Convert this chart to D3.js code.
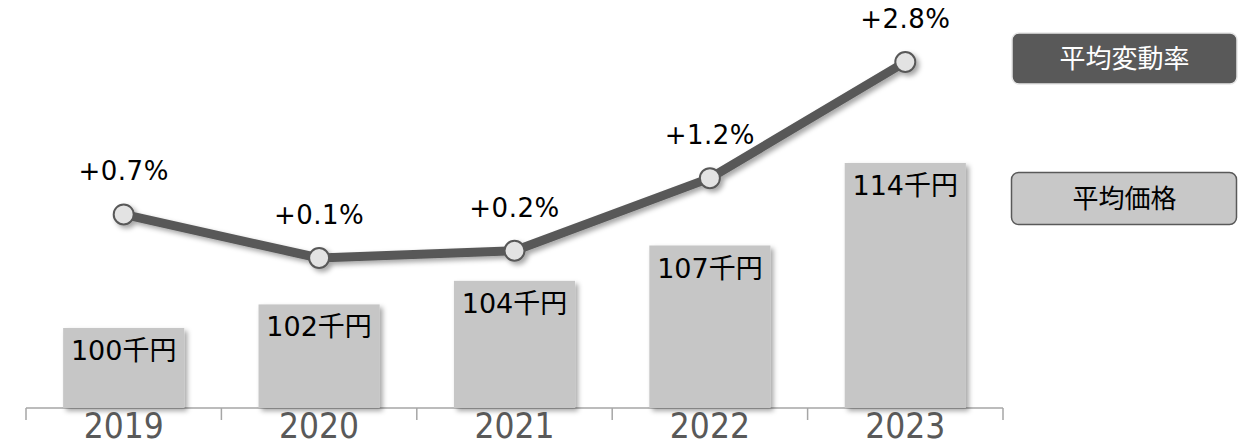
<!DOCTYPE html>
<meta charset='utf-8'>
<style>
  body { margin: 0; background: #fff; }
  svg { display: block; font-family: 'DejaVu Sans', 'Noto Sans CJK JP', sans-serif; }
  .barText { fill: #000; font-size: 27px; }
  .rateText { fill: #000; font-size: 26px; letter-spacing: 0.5px; }
  .yearText { fill: #595959; font-size: 35px; font-family: 'DejaVu Sans Condensed', 'DejaVu Sans', sans-serif; }
  .legendText { font-size: 26px; font-family: 'Noto Sans CJK JP', sans-serif; }
</style>
<body>
<div id='viz'></div>
<script src='https://d3js.org/d3.v7.min.js'></script>
<script>

// data
var years  = ['2019', '2020', '2021', '2022', '2023'];
var prices = [100, 102, 104, 107, 114];          // 平均価格 (千円)
var rates  = [0.7, 0.1, 0.2, 1.2, 2.8];          // 平均変動率 (%)
var legendLabels = ['平均変動率', '平均価格'];

var width = 1239, height = 446;
var baseY = 408;

var svg = d3.select('#viz').append('svg')
    .attr('width', width)
    .attr('height', height);

var defs = svg.append('defs');
defs.append('filter').attr('id', 'shadow')
    .attr('x', '-20%').attr('y', '-20%').attr('width', '140%').attr('height', '140%')
  .append('feDropShadow')
    .attr('dx', 3).attr('dy', 3).attr('stdDeviation', 2.5)
    .attr('flood-color', '#000').attr('flood-opacity', 0.35);

// scales
var xAxisBand = d3.scaleBand().domain(years).range([26, 1003]).padding(0);
var xBand = d3.scaleBand().domain(years).range([26, 1003])
    .paddingInner(0.38).paddingOuter(0.19);
var yPrice = d3.scaleLinear().domain([100, 114]).range([328, 163]);
var yRate = d3.scaleLinear().domain([0.1, 2.8]).range([258, 62]);
var cx = function(d) { return xAxisBand(d) + xAxisBand.bandwidth() / 2; };

// axis
var axis = svg.append('g')
    .attr('transform', 'translate(0,' + baseY + ')')
    .call(d3.axisBottom(xAxisBand).tickSize(0).tickFormat(''));
axis.select('.domain').attr('stroke', '#a6a6a6').attr('stroke-width', 1.5)
    .attr('d', 'M26,0H1003');
axis.selectAll('.bound')
    .data(years.concat(['end']))
    .enter().append('line')
    .attr('class', 'bound')
    .attr('x1', function(d) { return d === 'end' ? 1003 : xAxisBand(d); })
    .attr('x2', function(d) { return d === 'end' ? 1003 : xAxisBand(d); })
    .attr('y1', 0).attr('y2', 12)
    .attr('stroke', '#a6a6a6').attr('stroke-width', 1.5);

// bars
var bars = svg.append('g').selectAll('g')
    .data(years)
    .enter().append('g');

bars.append('rect')
    .attr('x', function(d) { return xBand(d); })
    .attr('y', function(d, i) { return yPrice(prices[i]); })
    .attr('width', xBand.bandwidth())
    .attr('height', function(d, i) { return baseY - yPrice(prices[i]); })
    .attr('fill', '#c6c6c6')
    .attr('filter', 'url(#shadow)');

bars.append('text')
    .attr('class', 'barText')
    .attr('x', function(d) { return cx(d); })
    .attr('y', function(d, i) { return yPrice(prices[i]) + 32; })
    .attr('text-anchor', 'middle')
    .text(function(d, i) { return prices[i] + '千円'; });

// year labels
svg.append('g').selectAll('text')
    .data(years)
    .enter().append('text')
    .attr('class', 'yearText')
    .attr('x', function(d) { return cx(d); })
    .attr('y', 438)
    .attr('text-anchor', 'middle')
    .text(function(d) { return d; });

// rate line
var line = d3.line()
    .x(function(d, i) { return cx(years[i]); })
    .y(function(d) { return yRate(d); });

var lineG = svg.append('g').attr('filter', 'url(#shadow)');
lineG.append('path')
    .datum(rates)
    .attr('d', line)
    .attr('fill', 'none')
    .attr('stroke', '#595959')
    .attr('stroke-width', 9)
    .attr('stroke-linejoin', 'round');

lineG.selectAll('circle')
    .data(rates)
    .enter().append('circle')
    .attr('cx', function(d, i) { return cx(years[i]); })
    .attr('cy', function(d) { return yRate(d); })
    .attr('r', 10)
    .attr('fill', '#e3e3e3')
    .attr('stroke', '#595959')
    .attr('stroke-width', 2);

svg.append('g').selectAll('text')
    .data(rates)
    .enter().append('text')
    .attr('class', 'rateText')
    .attr('x', function(d, i) { return cx(years[i]); })
    .attr('y', function(d) { return yRate(d) - 34; })
    .attr('text-anchor', 'middle')
    .text(function(d) { return '+' + d.toFixed(1) + '%'; });

// legend
var legend = svg.append('g');
legend.append('rect')
    .attr('x', 1012).attr('y', 33).attr('width', 225).attr('height', 51)
    .attr('rx', 7)
    .attr('fill', '#595959').attr('stroke', '#e6e6e6').attr('stroke-width', 1.5);
legend.append('text')
    .attr('class', 'legendText')
    .attr('x', 1124.5).attr('y', 59)
    .attr('dy', '0.35em')
    .attr('text-anchor', 'middle')
    .attr('fill', '#fff')
    .text(legendLabels[0]);

legend.append('rect')
    .attr('x', 1011.5).attr('y', 172.5).attr('width', 225).attr('height', 52)
    .attr('rx', 7)
    .attr('fill', '#c8c8c8').attr('stroke', '#595959').attr('stroke-width', 1.5);
legend.append('text')
    .attr('class', 'legendText')
    .attr('x', 1124.5).attr('y', 199)
    .attr('dy', '0.35em')
    .attr('text-anchor', 'middle')
    .attr('fill', '#000')
    .text(legendLabels[1]);

</script>
</body>
